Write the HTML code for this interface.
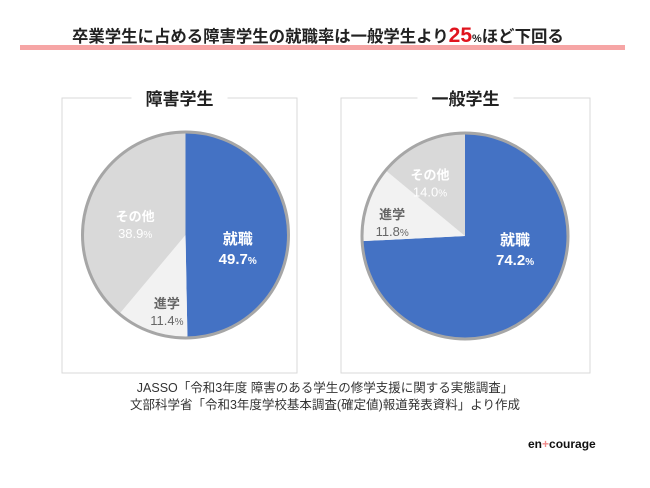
<!DOCTYPE html>
<html><head><meta charset="utf-8"><style>
body{margin:0;background:#fff;width:650px;height:488px;overflow:hidden;font-family:"Liberation Sans","Noto Sans CJK JP",sans-serif;position:relative}
.t{position:absolute;white-space:nowrap}
</style></head><body>
<div class="t" style="left:72px;top:23px;font-size:16.4px;font-weight:bold;color:#222">卒業学生に占める障害学生の就職率は一般学生より<span style="color:#e0141e;font-size:21px">25</span><span style="font-size:11px">%</span>ほど下回る</div>
<div style="position:absolute;left:20px;top:45px;width:605px;height:5px;background:#f6a5a5"></div>
<svg id="c" width="650" height="488" style="position:absolute;left:0;top:0"></svg>
<div class="t" style="left:0;width:650px;text-align:center;top:380px;font-size:12.5px;line-height:17px;color:#333">JASSO「令和3年度 障害のある学生の修学支援に関する実態調査」<br>文部科学省「令和3年度学校基本調査(確定値)報道発表資料」より作成</div>
<div class="t" style="left:528px;top:437px;font-size:12px;font-weight:bold;color:#111">en<span style="color:#f08a8a">+</span>courage</div>
<script>
const categories=["就職","進学","その他"];
const disabledValues=[49.7,11.4,38.9];
const generalValues=[74.2,11.8,14.0];
const panelTitles=["障害学生","一般学生"];
const colors=["#4472c4","#f2f2f2","#d9d9d9"];
const labelColors=["#fff","#666","#fff"];
const NS="http://www.w3.org/2000/svg";
const svg=document.getElementById('c');
function mk(t,a){const e=document.createElementNS(NS,t);for(const k in a)e.setAttribute(k,a[k]);svg.appendChild(e);return e;}
function pie(cx,cy,r,vals,px,pw,title,slug,angShift,radF){
  const box=mk('rect',{x:px,y:98,width:pw,height:275,fill:'none',stroke:'#d9d9d9','stroke-width':1});
  
  
  mk('rect',{x:px+pw/2-48,y:90,width:96,height:16,fill:'#fff'});
  const tt=mk('text',{x:px+pw/2,y:105,'text-anchor':'middle','font-size':17,'font-weight':'bold',fill:'#222'});
  tt.textContent=title;
  
  
  const total=vals.reduce((a,b)=>a+b,0);
  let a0=0;
  vals.forEach((v,i)=>{
    const a1=a0+v/total*2*Math.PI;
    const x0=cx+r*Math.sin(a0),y0=cy-r*Math.cos(a0),x1=cx+r*Math.sin(a1),y1=cy-r*Math.cos(a1);
    const p=mk('path',{d:`M${cx},${cy}L${x0},${y0}A${r},${r} 0 ${a1-a0>Math.PI?1:0} 1 ${x1},${y1}Z`,fill:colors[i]});
    
    
    const am=(a0+a1)/2+angShift[i]*Math.PI/180, lr=r*radF[i];
    const lx=cx+lr*Math.sin(am), ly=cy-lr*Math.cos(am);
    const fs=i==0?15:13;
    const t1=mk('text',{x:lx,y:ly-3,'text-anchor':'middle','font-size':fs,'font-weight':'bold',fill:labelColors[i]});
    t1.textContent=categories[i];
    
    
    const t2=mk('text',{x:lx,y:ly+(i==0?17:14),'text-anchor':'middle','font-size':fs,'font-weight':i==0?'bold':'normal',fill:labelColors[i]});
    t2.innerHTML=v.toFixed(1)+'<tspan font-size="10">%</tspan>';
    
    
    a0=a1;
  });
  const ring=mk('circle',{cx:cx,cy:cy,r:r,fill:'none',stroke:'#a6a6a6','stroke-width':3});
  
  
}
pie(185.5,235,103,disabledValues,62,235,panelTitles[0],'disabled-students',[13.5,-5.7,-7.7],[0.52,0.76,0.5]);
pie(465,236,103,generalValues,341,249,panelTitles[1],'general-students',[-30,-7.4,-8],[0.5,0.72,0.62]);
</script>
</body></html>
